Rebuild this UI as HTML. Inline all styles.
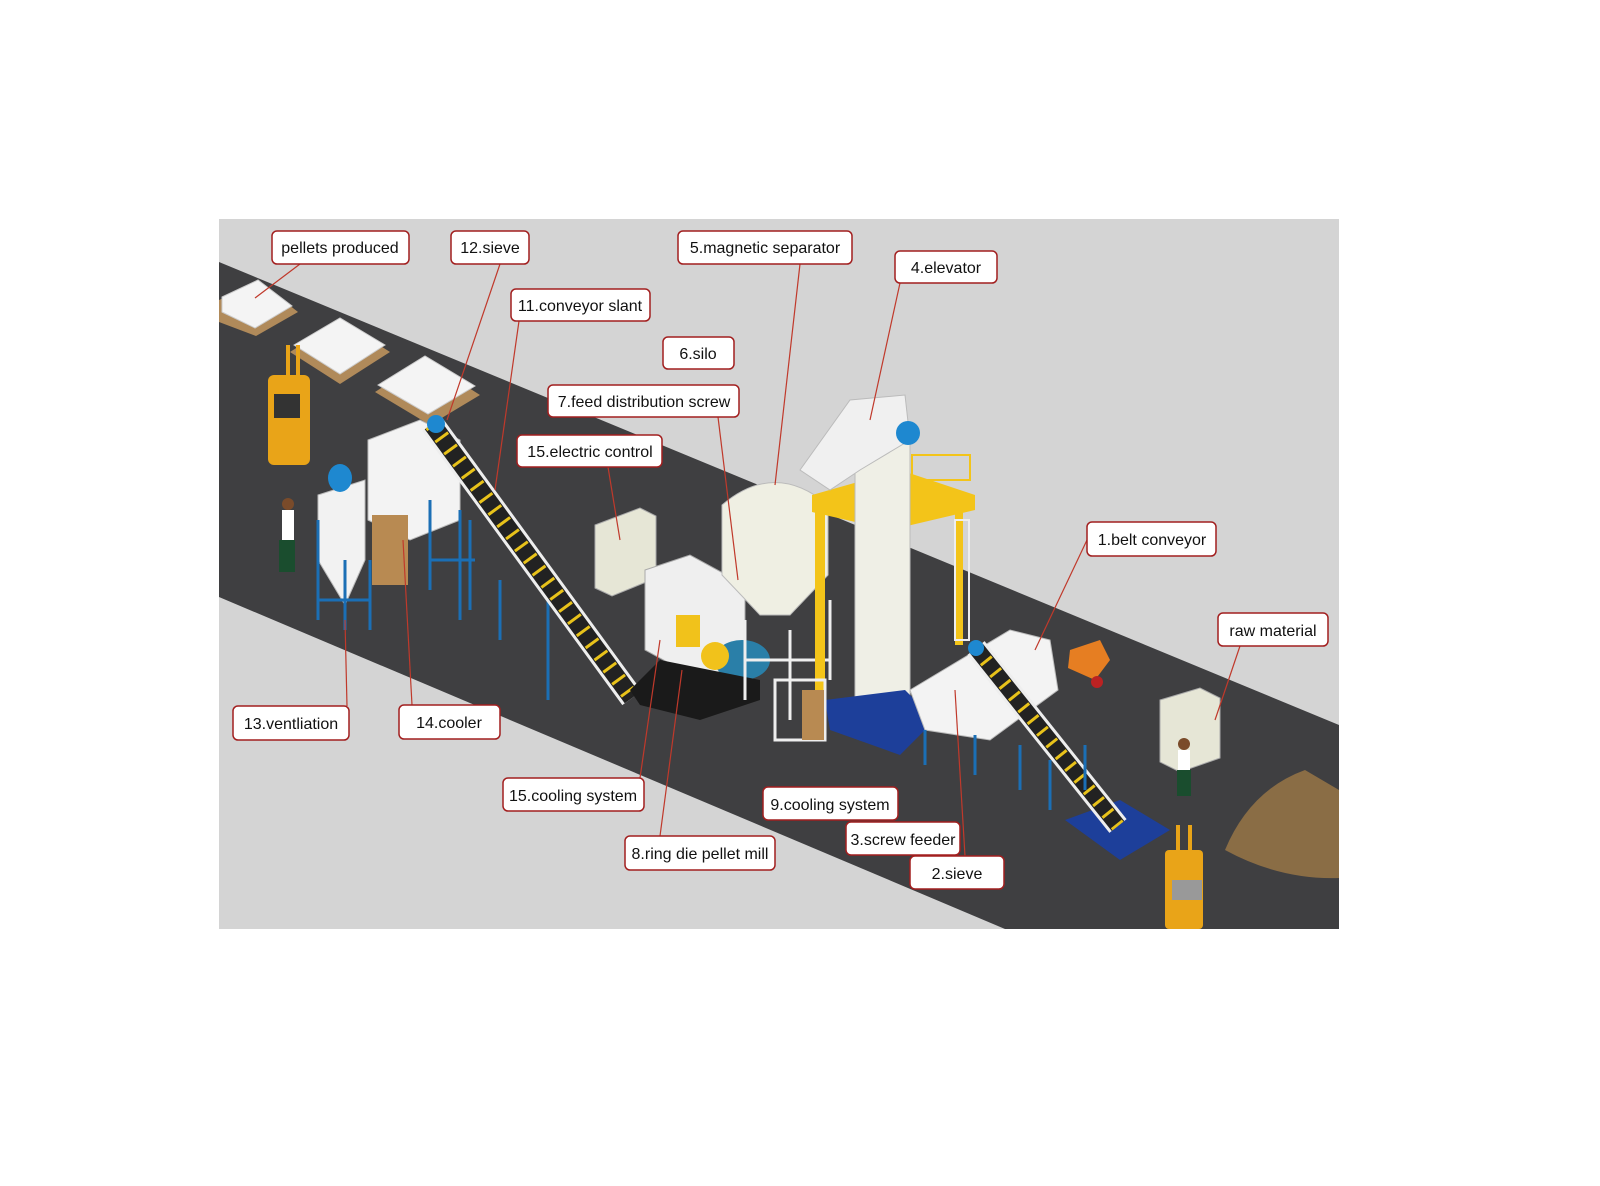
<!DOCTYPE html>
<html><head><meta charset="utf-8"><style>
html,body{margin:0;padding:0;background:#fff;}
svg{display:block}
text{font-family:"Liberation Sans",sans-serif;font-size:16px;fill:#111}
</style></head><body>
<svg width="1600" height="1186" viewBox="0 0 1600 1186" xmlns="http://www.w3.org/2000/svg">
<rect x="219" y="219" width="1120" height="710" fill="#d4d4d4"/>
<polygon points="219,262 1339,725 1339,929 1005,929 219,597" fill="#3f3f41"/>
<!-- pallets -->
<g>
<polygon points="219,300 260,282 298,312 256,336 219,322" fill="#b08a5a"/>
<polygon points="222,297 258,280 292,306 255,328 222,312" fill="#f4f4f4" stroke="#ccc"/>
<polygon points="290,352 340,320 390,352 340,384" fill="#b08a5a"/>
<polygon points="294,345 340,318 385,345 340,374" fill="#f4f4f4" stroke="#ccc"/>
<polygon points="375,392 425,360 480,395 430,425" fill="#b08a5a"/>
<polygon points="378,385 425,356 475,386 428,414" fill="#f4f4f4" stroke="#ccc"/>
</g>
<!-- forklift top left -->
<rect x="268" y="375" width="42" height="90" rx="6" fill="#e9a418"/>
<rect x="274" y="394" width="26" height="24" fill="#333"/>
<rect x="286" y="345" width="4" height="40" fill="#e9a418"/><rect x="296" y="345" width="4" height="40" fill="#e9a418"/>
<!-- cyclone & cooler -->
<polygon points="318,495 365,480 365,560 345,605 318,560" fill="#f2f2f2" stroke="#bbb"/>
<ellipse cx="340" cy="478" rx="12" ry="14" fill="#1e88d0"/>
<polygon points="368,440 420,420 460,440 460,520 410,540 368,520" fill="#f3f3f3" stroke="#bbb"/>
<rect x="372" y="515" width="36" height="70" fill="#b88a52"/>
<g stroke="#1b6fb5" stroke-width="3" fill="none">
<path d="M318,520 V620 M345,560 V630 M370,560 V630 M318,600 H370"/>
<path d="M430,500 V590 M460,510 V620 M470,520 V610 M430,560 H475"/>
<path d="M548,600 V700 M500,580 V640"/>
</g>
<!-- slant conveyor 11 -->
<line x1="432" y1="424" x2="632" y2="698" stroke="#eee" stroke-width="24"/>
<line x1="432" y1="424" x2="632" y2="698" stroke="#222" stroke-width="18"/>
<line x1="432" y1="424" x2="632" y2="698" stroke="#e8c21a" stroke-width="16" stroke-dasharray="3 12"/>
<circle cx="436" cy="424" r="9" fill="#1e88d0"/>
<!-- person left -->
<rect x="282" y="510" width="12" height="30" fill="#fff"/><rect x="279" y="540" width="16" height="32" fill="#1a4d2e"/><circle cx="288" cy="504" r="6" fill="#7a4b2a"/>
<!-- electric cabinets -->
<polygon points="595,525 640,508 656,516 656,578 612,596 595,588" fill="#e6e6d6" stroke="#aaa"/>
<polygon points="1160,700 1200,688 1220,698 1220,758 1180,772 1160,762" fill="#e6e6d6" stroke="#aaa"/>
<!-- pellet mill -->
<polygon points="645,570 690,555 745,585 745,660 700,680 645,650" fill="#efefef" stroke="#aaa"/>
<rect x="676" y="615" width="24" height="32" fill="#f1c21b"/>
<ellipse cx="742" cy="660" rx="28" ry="20" fill="#2a7fa8"/>
<ellipse cx="715" cy="656" rx="14" ry="14" fill="#f1c21b"/>
<polygon points="630,690 660,660 760,680 760,700 700,720 640,705" fill="#1a1a1a"/>
<!-- silo -->
<path d="M722,505 Q775,460 828,505 V575 L790,615 H760 L722,575 Z" fill="#efefe3" stroke="#bbb"/>
<g stroke="#eee" stroke-width="3"><path d="M745,620 V700 M790,630 V720 M830,600 V680 M745,660 H830"/></g>
<!-- yellow frame tower -->
<polygon points="812,495 900,470 975,495 975,510 890,530 812,512" fill="#f3c419"/>
<g fill="#f3c419"><rect x="815" y="510" width="10" height="180"/><rect x="890" y="525" width="10" height="220"/><rect x="955" y="505" width="8" height="140"/></g>
<polygon points="855,440 910,430 910,730 855,700" fill="#efefe6" stroke="#bbb"/>
<polygon points="800,470 850,400 905,395 910,440 860,470 830,490" fill="#f0f0f0" stroke="#bbb"/>
<circle cx="908" cy="433" r="12" fill="#1e88d0"/>
<polygon points="825,700 905,690 935,720 900,755 830,730" fill="#1d3f9a"/>
<rect x="955" y="520" width="14" height="120" fill="none" stroke="#eee" stroke-width="2"/>
<rect x="912" y="455" width="58" height="25" fill="none" stroke="#f3c419" stroke-width="2"/>
<!-- 9 cooling -->
<rect x="775" y="680" width="50" height="60" fill="none" stroke="#eee" stroke-width="3"/>
<rect x="802" y="690" width="22" height="50" fill="#b88a52"/>
<!-- belt conveyor 1 -->
<polygon points="910,690 1010,630 1050,640 1058,690 990,740 925,730" fill="#f3f3f3" stroke="#bbb"/>
<polygon points="1065,820 1120,800 1170,830 1120,860" fill="#1d3f9a"/>
<line x1="976" y1="648" x2="1118" y2="826" stroke="#eee" stroke-width="22"/>
<line x1="976" y1="648" x2="1118" y2="826" stroke="#222" stroke-width="16"/>
<line x1="976" y1="648" x2="1118" y2="826" stroke="#e8c21a" stroke-width="14" stroke-dasharray="3 12"/>
<circle cx="976" cy="648" r="8" fill="#1e88d0"/>
<g stroke="#1b6fb5" stroke-width="3"><path d="M925,730 V765 M975,735 V775 M1020,745 V790 M1050,760 V810 M1085,745 V790"/></g>
<polygon points="1070,650 1100,640 1110,660 1095,680 1068,668" fill="#e67e22"/>
<circle cx="1097" cy="682" r="6" fill="#b22"/>
<!-- person right, forklift bottom, pile -->
<rect x="1178" y="750" width="12" height="22" fill="#fff"/><rect x="1177" y="770" width="14" height="26" fill="#1a4d2e"/><circle cx="1184" cy="744" r="6" fill="#7a4b2a"/>
<rect x="1165" y="850" width="38" height="79" rx="4" fill="#e9a418"/><rect x="1172" y="880" width="30" height="20" fill="#999"/>
<rect x="1176" y="825" width="4" height="30" fill="#e9a418"/><rect x="1188" y="825" width="4" height="30" fill="#e9a418"/>
<path d="M1225,850 Q1250,790 1305,770 L1339,790 L1339,878 Q1280,880 1225,850 Z" fill="#8a6d45"/>
<!-- leader lines -->
<g stroke="#c0392b" stroke-width="1.2" fill="none">
<path d="M300,264 L255,298"/><path d="M500,264 L447,420"/><path d="M519,321 L495,490"/>
<path d="M800,264 L775,485"/><path d="M900,283 L870,420"/><path d="M718,417 L738,580"/>
<path d="M608,467 L620,540"/><path d="M1087,540 L1035,650"/><path d="M1240,646 L1215,720"/>
<path d="M347,706 L345,620"/><path d="M412,705 L403,540"/><path d="M640,778 L660,640"/>
<path d="M660,836 L682,670"/><path d="M965,856 L955,690"/>
</g>
<!-- labels -->
<g fill="#fff" stroke="#a21f1f" stroke-width="1.5">
<rect x="272" y="231" width="137" height="33" rx="5"/>
<rect x="451" y="231" width="78" height="33" rx="5"/>
<rect x="678" y="231" width="174" height="33" rx="5"/>
<rect x="895" y="251" width="102" height="32" rx="5"/>
<rect x="511" y="289" width="139" height="32" rx="5"/>
<rect x="663" y="337" width="71" height="32" rx="5"/>
<rect x="548" y="385" width="191" height="32" rx="5"/>
<rect x="517" y="435" width="145" height="32" rx="5"/>
<rect x="1087" y="522" width="129" height="34" rx="5"/>
<rect x="1218" y="613" width="110" height="33" rx="5"/>
<rect x="233" y="706" width="116" height="34" rx="5"/>
<rect x="399" y="705" width="101" height="34" rx="5"/>
<rect x="503" y="778" width="141" height="33" rx="5"/>
<rect x="763" y="787" width="135" height="33" rx="5"/>
<rect x="846" y="822" width="114" height="33" rx="5"/>
<rect x="625" y="836" width="150" height="34" rx="5"/>
<rect x="910" y="856" width="94" height="33" rx="5"/>
</g>
<g text-anchor="middle">
<text x="340" y="253">pellets produced</text>
<text x="490" y="253">12.sieve</text>
<text x="765" y="253">5.magnetic separator</text>
<text x="946" y="273">4.elevator</text>
<text x="580" y="311">11.conveyor slant</text>
<text x="698" y="359">6.silo</text>
<text x="644" y="407">7.feed distribution screw</text>
<text x="590" y="457">15.electric control</text>
<text x="1152" y="545">1.belt conveyor</text>
<text x="1273" y="636">raw material</text>
<text x="291" y="729">13.ventliation</text>
<text x="449" y="728">14.cooler</text>
<text x="573" y="801">15.cooling system</text>
<text x="830" y="810">9.cooling system</text>
<text x="903" y="845">3.screw feeder</text>
<text x="700" y="859">8.ring die pellet mill</text>
<text x="957" y="879">2.sieve</text>
</g>
</svg>
</body></html>
